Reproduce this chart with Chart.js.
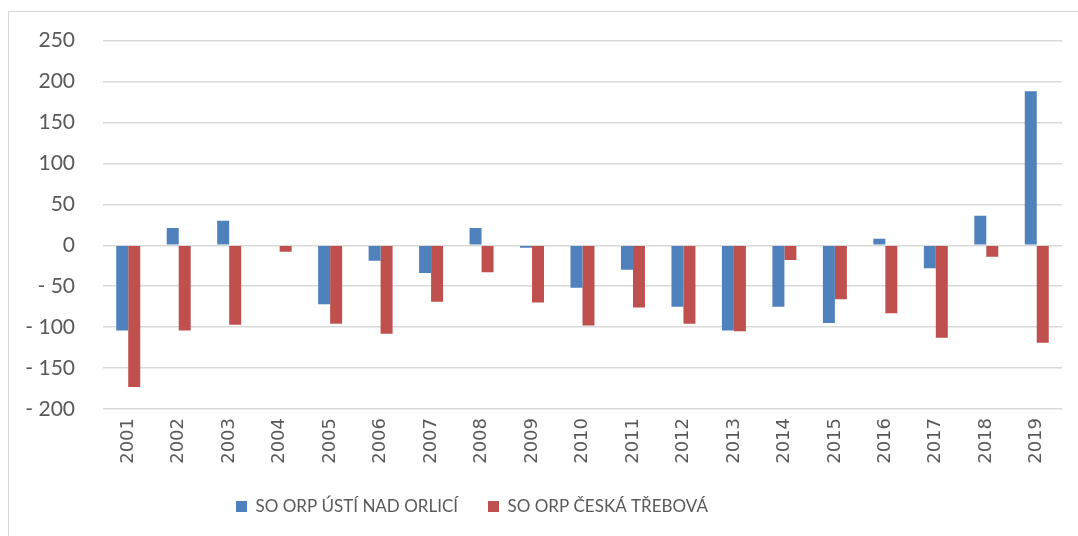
<!DOCTYPE html>
<html>
<head>
<meta charset="utf-8">
<script src="https://cdn.jsdelivr.net/npm/chart.js@4/dist/chart.umd.min.js"></script>
<style>
  html, body { margin: 0; padding: 0; background: #fff; }
  #wrap { position: relative; width: 1078px; height: 536px; overflow: hidden; }
  #frame { position: absolute; left: 8px; top: 11px; width: 1200px; height: 600px;
           border-left: 1px solid #d9d9d9; border-top: 1px solid #d9d9d9; }
  #myChart { position: absolute; left: 0; top: 0; }
</style>
</head>
<body>
<div id="wrap">
  <div id="frame"></div>
  <canvas id="myChart" width="1078" height="536"></canvas>
</div>
<script>
// categories and values
const years = ['2001', '2002', '2003', '2004', '2005', '2006', '2007', '2008', '2009', '2010',
  '2011', '2012', '2013', '2014', '2015', '2016', '2017', '2018', '2019'];
const ustiNadOrlici = [-104, 21, 30, 0, -72, -19, -34, 21, -3, -52,
  -30, -75, -104, -75, -95, 8, -28, 36, 188];
const ceskaTrebova = [-173, -104, -97, -8, -96, -108, -69, -33, -70, -98,
  -76, -96, -105, -18, -66, -83, -113, -14, -119];
const yMin = -200;
const yMax = 250;
const yStep = 50;

const grey = '#595959';
const legendStartX = 236;
const legendShiftY = -11;

// move the legend where the excel chart has it (left of centre)
const legendPlace = {
  id: 'legendPlace',
  afterLayout: function (chart) {
    const lg = chart.legend;
    if (!lg || !lg.lineWidths) return;
    const pad = lg.options.labels.padding;
    const lw = lg.lineWidths[0];
    lg.left = 0;
    lg.right = 2 * legendStartX - pad + lw;
    lg.width = lg.right;
    lg.top += legendShiftY;
    lg.bottom += legendShiftY;
  }
};

const data = {
  labels: years,
  datasets: [{
    label: 'SO ORP ÚSTÍ NAD ORLICÍ',
    backgroundColor: '#4f81bd',
    data: ustiNadOrlici
  }, {
    label: 'SO ORP ČESKÁ TŘEBOVÁ',
    backgroundColor: '#c0504d',
    data: ceskaTrebova
  }]
};

const config = {
  type: 'bar',
  data: data,
  plugins: [legendPlace],
  options: {
    responsive: false,
    animation: false,
    categoryPercentage: 0.475,
    barPercentage: 1,
    layout: { padding: { left: 8, right: 16, top: 40, bottom: 0 } },
    plugins: {
      tooltip: { enabled: false },
      legend: {
        position: 'bottom',
        labels: {
          color: grey,
          font: { family: 'Lato', size: 17 },
          boxWidth: 11,
          boxHeight: 11,
          padding: 30
        }
      }
    },
    scales: {
      x: {
        grid: { display: false, drawTicks: false },
        border: { display: false },
        ticks: {
          color: grey,
          font: { family: 'DejaVu Sans', size: 18 },
          minRotation: 90,
          maxRotation: 90,
          padding: 9
        },
        afterFit: function (scale) { scale.height = 536 - 409 - scale.chart.legend.height; }
      },
      y: {
        min: yMin,
        max: yMax,
        grid: { color: '#d9d9d9', lineWidth: 1.5, drawTicks: false },
        border: { display: false },
        ticks: {
          stepSize: yStep,
          color: grey,
          font: { family: 'Lato', size: 21 },
          padding: 28,
          callback: function (v) { return v < 0 ? '- ' + Math.abs(v) : v; }
        },
        afterFit: function (scale) { scale.width = 95; }
      }
    }
  }
};

const myChart = new Chart(document.getElementById('myChart'), config);
</script>
</body>
</html>
